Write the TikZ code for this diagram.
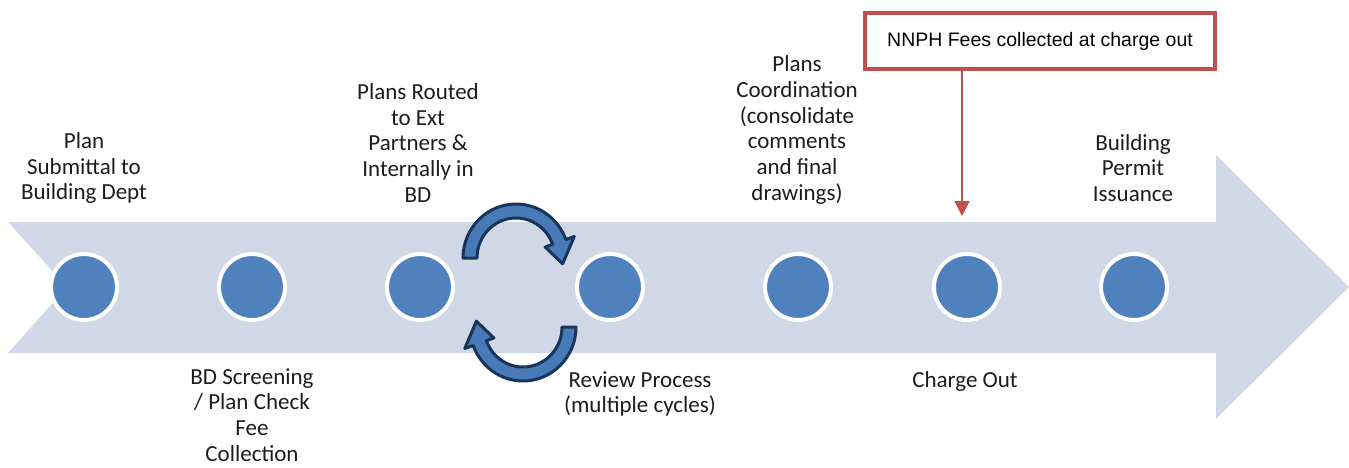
\documentclass[tikz,border=0pt]{standalone}
\usepackage{fontspec}
\setmainfont{Carlito}
\newfontfamily\notefont{Liberation Sans}
\usetikzlibrary{arrows.meta}

\definecolor{bandfill}{RGB}{208,216,232}
\definecolor{dotblue}{RGB}{79,129,189}
\definecolor{loopblue}{RGB}{72,122,184}
\definecolor{loopedge}{RGB}{24,52,88}
\definecolor{notered}{RGB}{192,80,77}
\definecolor{labeltext}{RGB}{28,28,28}

\tikzset{
  stage/.style={circle, fill=dotblue, draw=white, line width=4pt,
    minimum size=66pt, inner sep=0pt},
  steplabel/.style={align=center, inner sep=0pt, text=labeltext,
    font=\fontsize{23}{25.7}\selectfont},
  notebox/.style={draw=notered, line width=4pt, fill=white,
    minimum width=350pt, minimum height=56pt, inner sep=0pt,
    font=\notefont\fontsize{19.5}{22}\selectfont},
  noteline/.style={draw=notered, line width=1.8pt,
    -{Triangle[length=15pt,width=15pt]}},
  cyclearrow/.pic={
    \filldraw[fill=loopblue, draw=loopedge, line width=3pt, line join=round]
      (180:53 and 54) arc[start angle=180, end angle=340, x radius=53, y radius=54]
      -- (340:62 and 63) -- (7:47 and 48) -- (340:31 and 32)
      -- (340:39 and 40) arc[start angle=340, end angle=180, x radius=39, y radius=40]
      -- cycle;
  }
}

\begin{document}
\begin{tikzpicture}[x=1pt, y=-1pt]
  \useasboundingbox (0,0) rectangle (1349,467);

  % timeline band with notched tail and pointed head
  \fill[bandfill] (8,222) -- (1216,222) -- (1216,155) -- (1349,287)
    -- (1216,419) -- (1216,353) -- (8,353) -- (67,287) -- cycle;

  % review loop arrows
  \pic at (516,258) {cyclearrow};
  \pic[rotate=180] at (523,327) {cyclearrow};

  % milestones
  \node[stage] (s1) at (84,287) {};
  \node[stage] (s2) at (252,287) {};
  \node[stage] (s3) at (420,287) {};
  \node[stage] (s4) at (610,287) {};
  \node[stage] (s5) at (798,287) {};
  \node[stage] (s6) at (967,287) {};
  \node[stage] (s7) at (1134,287) {};

  % milestone captions
  \node[steplabel] (l1) at (84,168) {Plan\\Submittal to\\Building Dept};
  \node[steplabel] (l2) at (252,415) {BD Screening\\/ Plan Check\\Fee\\Collection};
  \node[steplabel] (l3) at (418,143) {Plans Routed\\to Ext\\Partners \&\\Internally in\\BD};
  \node[steplabel] (l4) at (640,394) {Review Process\\(multiple cycles)};
  \node[steplabel] (l5) at (797,130) {Plans\\Coordination\\(consolidate\\comments\\and final\\drawings)};
  \node[steplabel] (l6) at (965,381) {Charge Out};
  \node[steplabel] (l7) at (1133,168) {Building\\Permit\\Issuance};

  % fee note
  \node[notebox] (nnph) at (1040,41) {NNPH Fees collected at charge out};
  \coordinate (feetip) at (962,216);
  \draw[noteline] (nnph.south -| feetip) -- (feetip);
\end{tikzpicture}
\end{document}
